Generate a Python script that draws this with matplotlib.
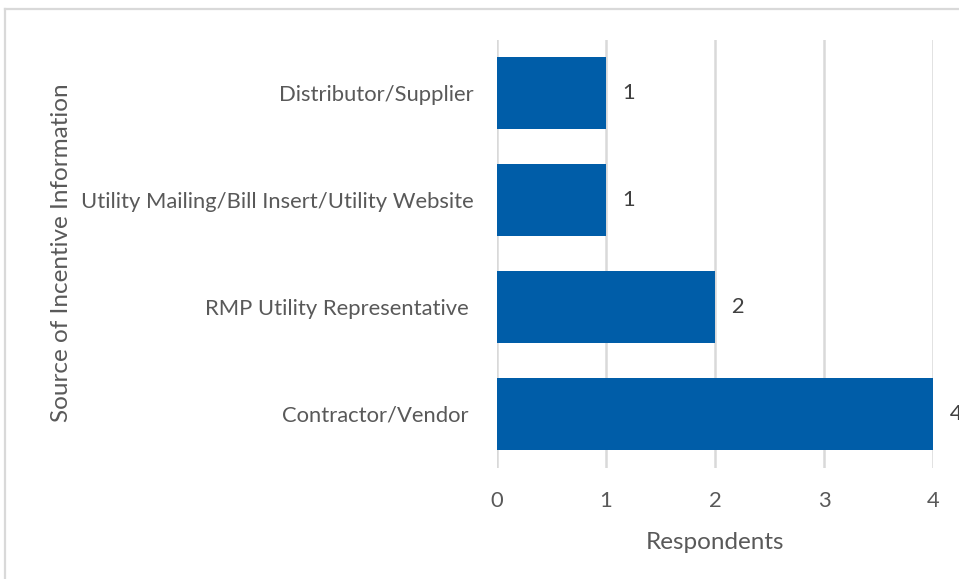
import matplotlib
matplotlib.use("Agg")
import matplotlib.pyplot as plt
from matplotlib.lines import Line2D

categories = ["Distributor/Supplier",
              "Utility Mailing/Bill Insert/Utility Website",
              "RMP Utility Representative ",
              "Contractor/Vendor "]
values = [1, 1, 2, 4]
x_ticks = [0, 1, 2, 3, 4]

W, H = 959, 579
fig = plt.figure(figsize=(W / 100, H / 100), dpi=100)
plt.rcParams['font.family'] = ['Lato', 'DejaVu Sans']

ax = fig.add_axes([497 / W, 1 - 467.5 / H, (933 - 497) / W, (467.5 - 39.5) / H])
ypos = list(range(len(categories)))
ax.barh(ypos, values, height=0.67, color='#005DA8', zorder=3)
ax.set_ylim(len(categories) - 0.5, -0.5)
ax.set_xlim(0, 4)
ax.set_xticks(x_ticks)
ax.set_xticklabels([str(t) for t in x_ticks])
ax.set_yticks(ypos)
ax.set_yticklabels(categories)
ax.grid(axis='x', color='#D9D9D9', linewidth=1.8, zorder=0)
for s in ax.spines.values():
    s.set_visible(False)
ax.tick_params(axis='both', length=0, colors='#595959', labelsize=15.8)
ax.tick_params(axis='x', pad=17)
ax.tick_params(axis='y', pad=16.5)
ax.set_xlabel("Respondents", color='#595959', fontsize=17.5, labelpad=15)
for y, v in zip(ypos, values):
    ax.text(v, y, "   " + str(v), va='center', ha='left', color='#404040', fontsize=15.8, clip_on=False)

fig.text(62 / W, 1 - 253 / H, "Source of Incentive Information", rotation=90,
         va='center', ha='center', color='#595959', fontsize=17.5)

# chart frame
fig.add_artist(Line2D([5 / W, 5 / W], [0, 1 - 9 / H], transform=fig.transFigure, color='#D9D9D9', linewidth=1.6))
fig.add_artist(Line2D([5 / W, 1], [1 - 9 / H, 1 - 9 / H], transform=fig.transFigure, color='#D9D9D9', linewidth=1.6))

fig.savefig("out.png", dpi=100)
